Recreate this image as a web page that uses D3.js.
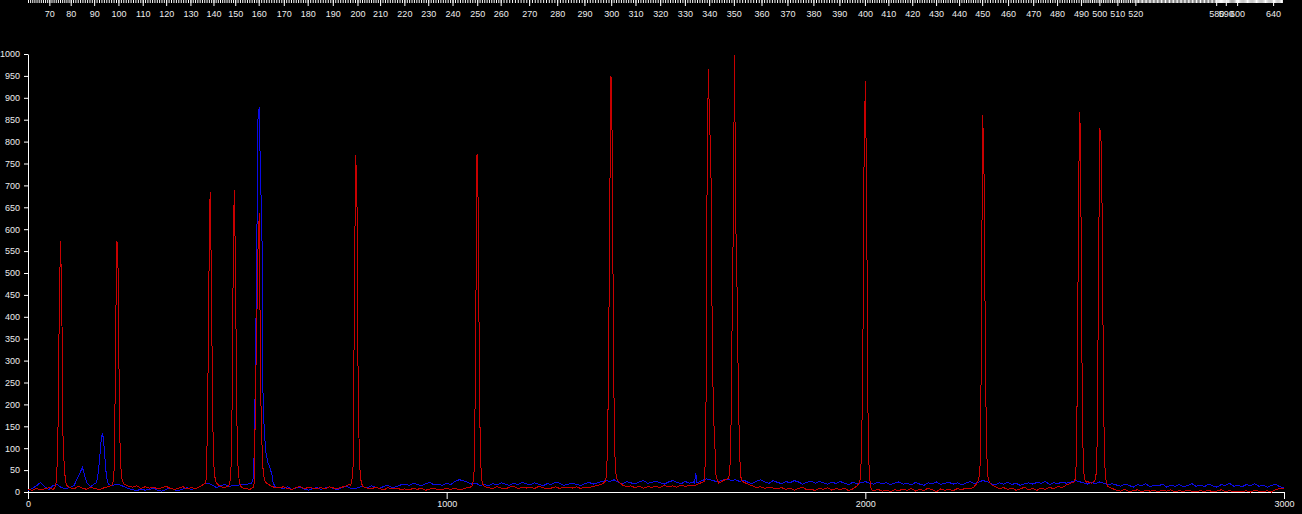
<!DOCTYPE html>
<html>
<head>
<meta charset="utf-8">
<script src="https://cdn.jsdelivr.net/npm/d3@7"></script>
<style>
  body { margin: 0; background: #000; overflow: hidden; }
  svg { display: block; }
  text { font-family: "Liberation Sans", Arial, sans-serif; font-size: 9px; fill: #ececec; }
</style>
</head>
<body>
<script>
const w = 1302;
const h = 514;

// baseline samples, one every 10 scans (0..3000)
const scanStep = 10;

const blueBase = [
    3, 8, 14, 22, 12, 6, 15, 17, 10, 8,
    10, 15, 35, 56, 22, 12, 20, 20, 22, 18,
    14, 18, 16, 12, 8, 5, 3, 7, 4, 6,
    8, 4, 2, 6, 9, 5, 3, 7, 10, 6,
    8, 12, 18, 20, 16, 10, 14, 18, 12, 15,
    14, 18, 16, 20, 30, 40, 50, 45, 40, 12,
    10, 8, 12, 6, 9, 11, 7, 4, 8, 10,
    6, 9, 12, 8, 5, 10, 13, 9, 7, 11,
    12, 9, 14, 11, 8, 13, 15, 10, 12, 16,
    18, 15, 20, 17, 14, 19, 22, 16, 18, 15,
    20, 17, 24, 28, 26, 22, 18, 20, 15, 17,
    14, 19, 16, 21, 18, 15, 20, 17, 22, 19,
    16, 21, 18, 14, 19, 17, 22, 20, 15, 18,
    20, 17, 15, 19, 22, 18, 21, 24, 26, 24,
    28, 22, 19, 24, 21, 18, 23, 26, 20, 22,
    25, 21, 18, 23, 26, 22, 19, 24, 20, 23,
    22, 26, 30, 28, 25, 24, 27, 30, 26, 28,
    24, 27, 22, 19, 25, 28, 23, 20, 26, 22,
    19, 24, 21, 26, 23, 18, 22, 25, 20, 24,
    21, 18, 23, 19, 24, 20, 17, 22, 19, 21,
    24, 20, 18, 22, 19, 21, 17, 20, 23, 18,
    20, 16, 22, 18, 15, 21, 19, 23, 17, 20,
    22, 18, 21, 16, 20, 24, 19, 22, 26, 24,
    19, 16, 21, 18, 22, 17, 20, 15, 19, 21,
    18, 22, 20, 24, 17, 21, 19, 23, 20, 22,
    26, 24, 21, 18, 22, 19, 23, 20, 17, 19,
    16, 13, 18, 15, 11, 17, 14, 19, 12, 16,
    14, 18, 11, 16, 13, 17, 12, 15, 19, 13,
    16, 12, 18, 14, 11, 17, 15, 20, 13, 16,
    12, 17, 14, 19, 13, 16, 11, 15, 18, 12,
    10
];

const redBase = [
    6, 4, 8, 5, 7, 10, 6, 9, 11, 12,
    10, 7, 13, 9, 6, 11, 8, 5, 9, 12,
    15, 20, 25, 18, 13, 11, 14, 8, 12, 9,
    11, 7, 10, 13, 8, 6, 9, 12, 7, 10,
    8, 12, 18, 20, 20, 15, 12, 10, 14, 18,
    20, 10, 8, 6, 10, 20, 30, 20, 14, 10,
    9, 12, 8, 6, 10, 13, 7, 11, 9, 8,
    10, 7, 12, 9, 8, 11, 14, 18, 20, 20,
    12, 9, 7, 11, 8, 5, 10, 7, 9, 6,
    7, 5, 8, 6, 9, 4, 7, 8, 5, 6,
    8, 6, 9, 5, 7, 10, 12, 15, 20, 12,
    10, 8, 12, 9, 7, 11, 13, 8, 10, 9,
    11, 8, 13, 10, 7, 9, 12, 8, 11, 10,
    9, 12, 8, 11, 10, 13, 15, 18, 22, 25,
    25, 20, 16, 12, 14, 10, 13, 9, 12, 11,
    13, 10, 15, 12, 14, 11, 16, 13, 15, 14,
    18, 22, 28, 30, 24, 20, 26, 30, 30, 30,
    30, 22, 18, 14, 10, 12, 8, 11, 9, 7,
    10, 6, 9, 4, 8, 11, 5, 7, 3, 9,
    6, 10, 4, 8, 5, 9, 3, 7, 14, 20,
    20, 10, 3, 6, 2, 4, 1, 5, 3, 7,
    4, 8, 2, 6, 3, 9, 5, 1, 7, 4,
    6, 3, 8, 5, 9, 7, 12, 15, 20, 30,
    18, 12, 8, 10, 6, 9, 4, 7, 11, 5,
    8, 4, 9, 6, 11, 7, 13, 10, 16, 20,
    22, 25, 22, 24, 20, 30, 30, 25, 12, 8,
    4, 2, 6, 1, 3, 5, 0, 4, 2, 3,
    1, 4, 2, 5, 0, 3, 1, 4, 2, 0,
    3, 1, 4, 0, 2, 5, 1, 3, 0, 2,
    1, 3, 0, 4, 2, 1, 3, 0, 5, 8,
    9
];

// peaks are sampled finer, one every 3 scans from "start"
const peakStep = 3;

const bluePeaks = [
    { start: 162.5, vals: [20, 30, 50, 80, 115, 135, 120, 80, 45, 25, 18] },
    { start: 534.5, vals: [20, 30, 90, 300, 560, 860, 880, 700, 640, 200, 140, 95, 80, 66, 60, 50, 40, 22, 15] },
    { start: 1592, vals: [20, 44, 20] }
];

const redPeaks = [
    { start: 65.5, vals: [12, 30, 130, 400, 573, 460, 130, 60, 25, 15] },
    { start: 200.5, vals: [15, 25, 60, 380, 573, 500, 150, 60, 30, 20] },
    { start: 423, vals: [20, 30, 170, 480, 685, 500, 170, 60, 30, 20] },
    { start: 480.5, vals: [18, 30, 90, 450, 690, 530, 180, 60, 25, 15] },
    { start: 537.5, vals: [10, 20, 230, 390, 560, 637, 240, 119, 50, 30, 22, 20] },
    { start: 770.5, vals: [15, 25, 60, 420, 769, 700, 250, 70, 30, 18] },
    { start: 1060.5, vals: [14, 25, 60, 380, 772, 650, 200, 60, 25, 15] },
    { start: 1377.5, vals: [22, 30, 80, 250, 650, 950, 800, 300, 90, 40, 28, 24] },
    { start: 1616, vals: [25, 112, 700, 966, 842, 762, 400, 180, 125, 40, 28] },
    { start: 1672.5, vals: [30, 40, 90, 363, 600, 998, 620, 468, 249, 89, 35, 25] },
    { start: 1985, vals: [20, 30, 90, 300, 760, 938, 700, 200, 50, 15, 5] },
    { start: 2268, vals: [22, 28, 60, 300, 861, 780, 420, 120, 40, 25, 20] },
    { start: 2497.5, vals: [22, 25, 60, 250, 710, 868, 600, 150, 45, 28, 22] },
    { start: 2548, vals: [25, 40, 120, 500, 831, 800, 620, 200, 60, 25, 15] }
];

// mass calibration: mass -> scan index (top ruler)
const massCal = [60, 70, 80, 90, 100, 110, 120, 130, 140, 150, 160, 170, 180, 190, 200,
    210, 220, 230, 240, 250, 260, 270, 280, 290, 300, 310, 320, 330, 340, 350,
    360, 370, 380, 390, 400, 410, 420, 430, 440, 450, 460, 470, 480, 490, 500,
    510, 520, 580, 590, 600, 640, 650];
const scanCal = [0, 51, 102, 158, 216, 274, 330, 388, 443, 495, 551, 611, 668, 728, 787,
    841, 899, 956, 1014, 1073, 1129, 1197, 1264, 1329, 1393, 1451, 1510, 1569, 1627, 1686,
    1752, 1814, 1876, 1938, 1999, 2055, 2112, 2169, 2224, 2279, 2341, 2401, 2458, 2515, 2559,
    2602, 2645, 2838, 2861, 2888, 2974, 2995];
const massLabels = [70, 80, 90, 100, 110, 120, 130, 140, 150, 160, 170, 180, 190, 200,
    210, 220, 230, 240, 250, 260, 270, 280, 290, 300, 310, 320, 330, 340, 350,
    360, 370, 380, 390, 400, 410, 420, 430, 440, 450, 460, 470, 480, 490, 500,
    510, 520, 580, 590, 600, 640];

const yTicks = [0, 50, 100, 150, 200, 250, 300, 350, 400, 450, 500, 550, 600, 650, 700, 750, 800, 850, 900, 950, 1000];
const xTicks = [0, 1000, 2000, 3000];

function buildSeries(base, peaks) {
    const pts = [];
    base.forEach((v, i) => {
        const s = i * scanStep;
        const covered = peaks.some(p => s >= p.start && s <= p.start + (p.vals.length - 1) * peakStep);
        if (!covered) pts.push([s, v]);
    });
    peaks.forEach(p => p.vals.forEach((v, i) => pts.push([p.start + i * peakStep, v])));
    pts.sort((a, b) => a[0] - b[0]);
    return pts;
}

const svg = d3.select("body")
    .append("svg")
    .attr("width", w)
    .attr("height", h)
    .style("background", "#000");

const x = d3.scaleLinear().domain([0, 3000]).range([28, 1284]);
const y = d3.scaleLinear().domain([0, 1000]).range([492, 54]);
const massX = d3.scaleLinear().domain(massCal).range(scanCal.map(s => x(s)));

// top ruler: minor ticks every mass unit, labelled ticks on calibration masses
const minorMass = d3.range(60, 651, 1);
svg.append("g")
    .attr("class", "ruler-minor")
    .call(d3.axisBottom(massX).tickValues(minorMass).tickSize(3).tickFormat(""));
svg.append("g")
    .attr("class", "ruler-major")
    .call(d3.axisBottom(massX).tickValues(massLabels).tickSize(6).tickPadding(5).tickFormat(d3.format("d")));

svg.append("g")
    .attr("transform", "translate(28,0)")
    .call(d3.axisLeft(y).tickValues(yTicks).tickSize(4).tickPadding(4).tickSizeOuter(0).tickFormat(d3.format("d")));

svg.append("g")
    .attr("transform", "translate(0,492)")
    .call(d3.axisBottom(x).tickValues(xTicks).tickSize(7).tickPadding(2).tickSizeOuter(0).tickFormat(d3.format("d")));

svg.selectAll(".domain").attr("stroke", "#fff");
svg.selectAll(".tick line").attr("stroke", "#fff");
svg.selectAll(".ruler-minor .domain, .ruler-major .domain").remove();
svg.selectAll("g text").attr("fill", "#f0f0f0").style("font-size", "9px");

const line = d3.line()
    .x(d => x(d[0]))
    .y(d => y(d[1]));

svg.append("path")
    .datum(buildSeries(blueBase, bluePeaks))
    .attr("fill", "none")
    .attr("stroke", "#0a0ae6")
    .attr("stroke-width", 1)
    .attr("shape-rendering", "crispEdges")
    .attr("d", line);

svg.append("path")
    .datum(buildSeries(redBase, redPeaks))
    .attr("fill", "none")
    .attr("stroke", "#c80000")
    .attr("stroke-width", 1)
    .attr("shape-rendering", "crispEdges")
    .attr("d", line);
</script>
</body>
</html>
